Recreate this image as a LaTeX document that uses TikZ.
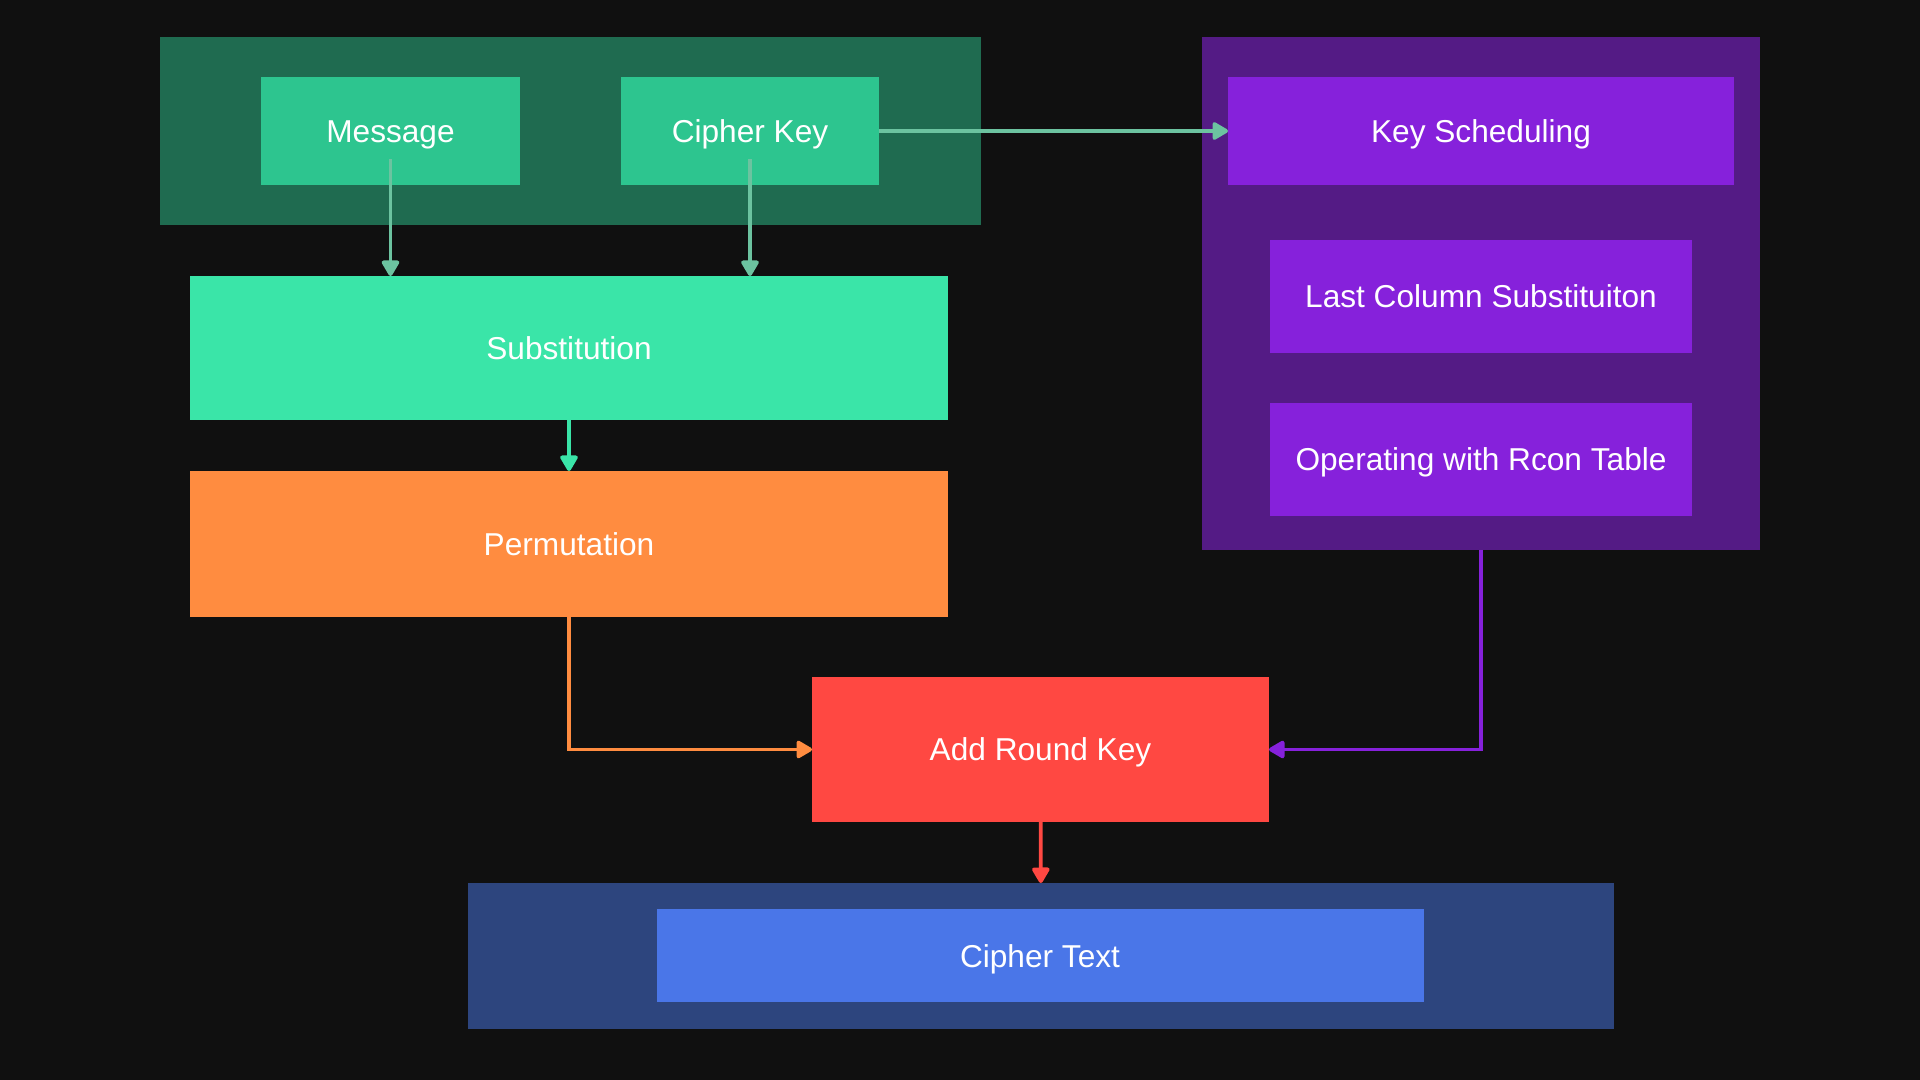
\documentclass[tikz,border=0pt]{standalone}
\usepackage{fontspec}
\setmainfont{Liberation Sans}
\usetikzlibrary{arrows.meta}

\definecolor{bgdark}{HTML}{101010}
\definecolor{grpgreen}{HTML}{1F6B50}
\definecolor{boxgreen}{HTML}{2DC58F}
\definecolor{lnkgreen}{HTML}{6CC3A0}
\definecolor{subgreen}{HTML}{3AE5A8}
\definecolor{permorange}{HTML}{FF8C40}
\definecolor{grppurple}{HTML}{541B85}
\definecolor{boxpurple}{HTML}{8621DB}
\definecolor{arkred}{HTML}{FF4842}
\definecolor{grpblue}{HTML}{2D457E}
\definecolor{boxblue}{HTML}{4A76E8}

\begin{document}
\begin{tikzpicture}[
    grp/.style={rectangle, inner sep=0pt, outer sep=0pt},
    box/.style={rectangle, inner sep=0pt, outer sep=0pt, text=white,
                text height=6.5pt, text depth=0pt,
                align=center, font=\fontsize{9pt}{11pt}\selectfont},
    arr/.style={-{Triangle[length=5pt, width=5.5pt, round]}, line width=1.1pt},
  ]

  % canvas
  \fill[bgdark] (0, 0) rectangle (19.2, 10.8);

  % Input group
  \node[grp, fill=grpgreen, minimum width=8.21cm, minimum height=1.88cm] (ingrp) at (5.705, 9.49) {};
  \node[box, fill=boxgreen, minimum width=2.59cm, minimum height=1.08cm] (msg) at (3.905, 9.49) {Message};
  \node[box, fill=boxgreen, minimum width=2.58cm, minimum height=1.08cm] (ckey) at (7.50, 9.49) {Cipher Key};

  % Round steps
  \node[box, fill=subgreen, minimum width=7.58cm, minimum height=1.44cm] (subst) at (5.69, 7.32) {Substitution};
  \node[box, fill=permorange, minimum width=7.58cm, minimum height=1.46cm] (perm) at (5.69, 5.36) {Permutation};

  % Key scheduling group
  \node[grp, fill=grppurple, minimum width=5.58cm, minimum height=5.13cm] (keygrp) at (14.81, 7.865) {};
  \node[box, fill=boxpurple, minimum width=5.06cm, minimum height=1.08cm] (ksched) at (14.81, 9.49) {Key Scheduling};
  \node[box, fill=boxpurple, minimum width=4.22cm, minimum height=1.13cm] (lastcol) at (14.81, 7.835) {Last Column Substituiton};
  \node[box, fill=boxpurple, minimum width=4.22cm, minimum height=1.13cm] (rcon) at (14.81, 6.205) {Operating with Rcon Table};

  % Add round key
  \node[box, fill=arkred, minimum width=4.57cm, minimum height=1.45cm] (ark) at (10.405, 3.305) {Add Round Key};

  % Output group
  \node[grp, fill=grpblue, minimum width=11.46cm, minimum height=1.46cm] (outgrp) at (10.41, 1.24) {};
  \node[box, fill=boxblue, minimum width=7.67cm, minimum height=0.93cm] (ctext) at (10.40, 1.24) {Cipher Text};

  \draw[arr, lnkgreen] ([yshift=-0.28cm]msg.center) -- (msg |- subst.north);
  \draw[arr, lnkgreen] ([yshift=-0.28cm]ckey.center) -- (ckey |- subst.north);
  \draw[arr, lnkgreen] (ckey.east) -- (ksched.west);
  \draw[arr, subgreen] (subst) -- (perm);
  \draw[arr, permorange] (perm.south) |- (ark.west);
  \draw[arr, boxpurple] (keygrp.south) |- (ark.east);
  \draw[arr, arkred] (ark) -- (outgrp);

  \end{tikzpicture}
\end{document}
